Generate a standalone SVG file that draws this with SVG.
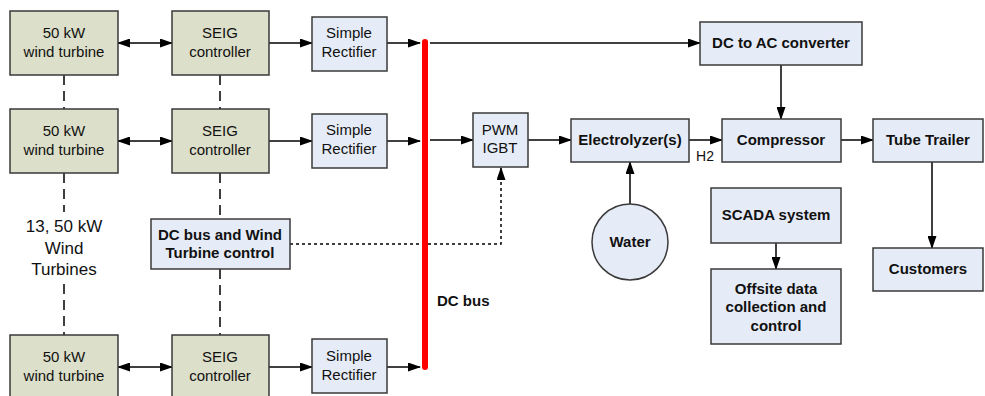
<svg xmlns="http://www.w3.org/2000/svg" width="985" height="396" viewBox="0 0 985 396">
<defs>
<style>
.g{fill:#dcdfc9;stroke:#3a3a3a;stroke-width:1.5}
.b{fill:#e6ecf7;stroke:#3a3a3a;stroke-width:1.5}
.t{font-family:"Liberation Sans",Arial,sans-serif;font-size:15px;fill:#111;text-anchor:middle}
.tb{font-family:"Liberation Sans",Arial,sans-serif;font-size:15px;font-weight:bold;fill:#111;text-anchor:middle}
.c{fill:none;stroke:#000;stroke-width:1.5}
.d{fill:none;stroke:#000;stroke-width:1.5;stroke-dasharray:10,6}
.dot{fill:none;stroke:#000;stroke-width:1.5;stroke-dasharray:3,3}
</style>
<marker id="ah" markerWidth="13" markerHeight="9" refX="12" refY="4.5" orient="auto" markerUnits="userSpaceOnUse">
<path d="M0,0 L13,4.5 L0,9 Z" fill="#000"/>
</marker>
<marker id="as" markerWidth="13" markerHeight="9" refX="1" refY="4.5" orient="auto" markerUnits="userSpaceOnUse">
<path d="M13,0 L0,4.5 L13,9 Z" fill="#000"/>
</marker>
</defs>
<g id="connectors">
<line class="d" x1="64" y1="75" x2="64" y2="109"/>
<line class="d" x1="64" y1="173" x2="64" y2="212"/>
<line class="d" x1="64" y1="284" x2="64" y2="335"/>
<line class="d" x1="220" y1="75" x2="220" y2="109"/>
<line class="d" x1="220" y1="173" x2="220" y2="219"/>
<line class="d" x1="220" y1="269" x2="220" y2="335"/>
<line class="c" x1="118" y1="43" x2="172" y2="43" marker-start="url(#as)" marker-end="url(#ah)"/>
<line class="c" x1="118" y1="141" x2="172" y2="141" marker-start="url(#as)" marker-end="url(#ah)"/>
<line class="c" x1="118" y1="367" x2="172" y2="367" marker-start="url(#as)" marker-end="url(#ah)"/>
<line class="c" x1="269" y1="43" x2="312" y2="43" marker-end="url(#ah)"/>
<line class="c" x1="269" y1="141" x2="312" y2="141" marker-end="url(#ah)"/>
<line class="c" x1="269" y1="367" x2="312" y2="367" marker-end="url(#ah)"/>
<line class="c" x1="387" y1="43" x2="420" y2="43" marker-end="url(#ah)"/>
<line class="c" x1="387" y1="141" x2="420" y2="141" marker-end="url(#ah)"/>
<line class="c" x1="387" y1="367" x2="420" y2="367" marker-end="url(#ah)"/>
<polyline class="dot" points="290,244 501,244 501,168"/>
<line class="c" x1="501" y1="180" x2="501" y2="168" marker-end="url(#ah)"/>
<line class="c" x1="430" y1="43" x2="700" y2="43" marker-end="url(#ah)"/>
<line class="c" x1="430" y1="140" x2="473" y2="140" marker-end="url(#ah)"/>
<line class="c" x1="528" y1="140" x2="571" y2="140" marker-end="url(#ah)"/>
<line class="c" x1="689" y1="140" x2="722" y2="140" marker-end="url(#ah)"/>
<line class="c" x1="781" y1="65" x2="781" y2="119" marker-end="url(#ah)"/>
<line class="c" x1="841" y1="140" x2="873" y2="140" marker-end="url(#ah)"/>
<line class="c" x1="932" y1="162" x2="932" y2="248" marker-end="url(#ah)"/>
<line class="c" x1="630" y1="204" x2="630" y2="162" marker-end="url(#ah)"/>
<line class="c" x1="776" y1="243" x2="776" y2="269" marker-end="url(#ah)"/>
<text x="705" y="161" class="t" style="font-size:14px">H2</text>
</g>
<g id="dcbus">
<line x1="425" y1="42" x2="425" y2="367" stroke="#ff0000" stroke-width="6" stroke-linecap="round"/>
<text x="437" y="306" class="tb" style="text-anchor:start">DC bus</text>
</g>
<g id="turbines-label">
<text x="64" y="232" class="t" style="font-size:17px">13, 50 kW</text>
<text x="64" y="254" class="t" style="font-size:17px">Wind</text>
<text x="64" y="275" class="t" style="font-size:17px">Turbines</text>
</g>
<g id="wt1"><rect class="g" x="10" y="11" width="108" height="64"/><text class="t" x="64" y="38">50 kW</text><text class="t" x="64" y="57">wind turbine</text></g>
<g id="wt2"><rect class="g" x="10" y="109" width="108" height="64"/><text class="t" x="64" y="136">50 kW</text><text class="t" x="64" y="155">wind turbine</text></g>
<g id="wt3"><rect class="g" x="10" y="335" width="108" height="64"/><text class="t" x="64" y="362">50 kW</text><text class="t" x="64" y="381">wind turbine</text></g>
<g id="seig1"><rect class="g" x="172" y="11" width="97" height="64"/><text class="t" x="220" y="38">SEIG</text><text class="t" x="220" y="57">controller</text></g>
<g id="seig2"><rect class="g" x="172" y="109" width="97" height="64"/><text class="t" x="220" y="136">SEIG</text><text class="t" x="220" y="155">controller</text></g>
<g id="seig3"><rect class="g" x="172" y="335" width="97" height="64"/><text class="t" x="220" y="362">SEIG</text><text class="t" x="220" y="381">controller</text></g>
<g id="rect1"><rect class="b" x="312" y="17" width="75" height="54"/><text class="t" x="349" y="38">Simple</text><text class="t" x="349" y="57">Rectifier</text></g>
<g id="rect2"><rect class="b" x="312" y="114" width="75" height="54"/><text class="t" x="349" y="135">Simple</text><text class="t" x="349" y="154">Rectifier</text></g>
<g id="rect3"><rect class="b" x="312" y="339" width="75" height="54"/><text class="t" x="349" y="361">Simple</text><text class="t" x="349" y="380">Rectifier</text></g>
<g id="dccontrol"><rect class="b" x="151" y="219" width="139" height="50"/><text class="tb" x="220" y="240">DC bus and Wind</text><text class="tb" x="220" y="258">Turbine control</text></g>
<g id="pwm"><rect class="b" x="473" y="113" width="55" height="54"/><text class="t" x="500" y="135">PWM</text><text class="t" x="500" y="153">IGBT</text></g>
<g id="electrolyzer"><rect class="b" x="571" y="119" width="118" height="43"/><text class="tb" x="630" y="145">Electrolyzer(s)</text></g>
<g id="water"><circle cx="630" cy="242" r="38" fill="#e6ecf7" stroke="#3a3a3a" stroke-width="1.5"/><text class="tb" x="630" y="247">Water</text></g>
<g id="dcac"><rect class="b" x="700" y="22" width="162" height="43"/><text class="tb" x="781" y="48">DC to AC converter</text></g>
<g id="compressor"><rect class="b" x="722" y="119" width="119" height="43"/><text class="tb" x="781" y="145">Compressor</text></g>
<g id="tubetrailer"><rect class="b" x="873" y="119" width="110" height="43"/><text class="tb" x="928" y="145">Tube Trailer</text></g>
<g id="customers"><rect class="b" x="873" y="248" width="110" height="43"/><text class="tb" x="928" y="274">Customers</text></g>
<g id="scada"><rect class="b" x="711" y="188" width="130" height="55"/><text class="tb" x="776" y="220">SCADA system</text></g>
<g id="offsite"><rect class="b" x="711" y="269" width="130" height="75"/><text class="tb" x="776" y="294">Offsite data</text><text class="tb" x="776" y="312">collection and</text><text class="tb" x="776" y="331">control</text></g>
</svg>
